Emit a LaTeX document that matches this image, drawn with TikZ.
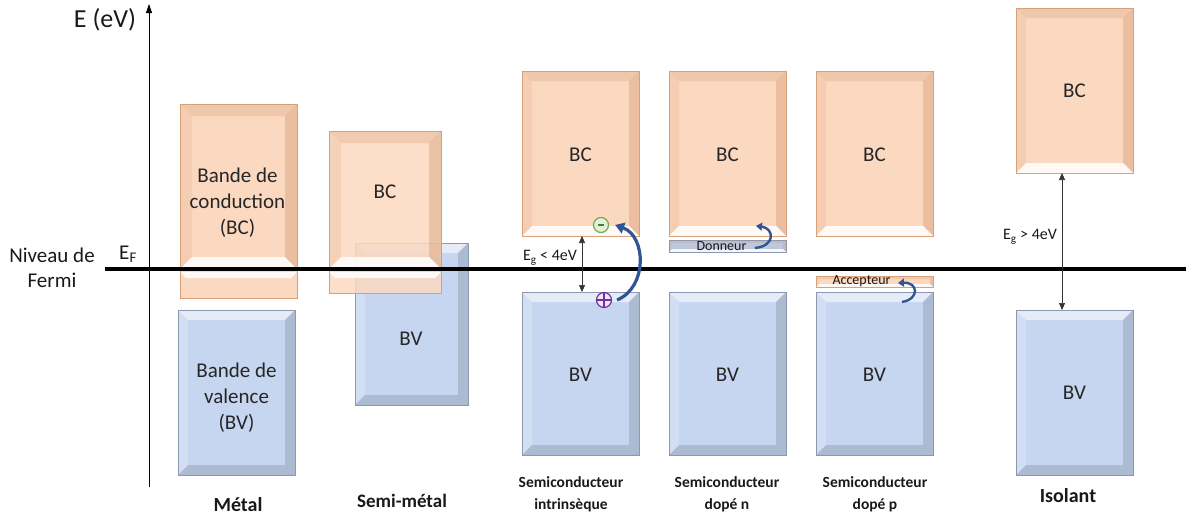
\documentclass[tikz,border=0pt]{standalone}
\usepackage{fontspec}
\setmainfont{Carlito}
\usetikzlibrary{arrows.meta}
\definecolor{bcfill}{RGB}{251,216,192}
\definecolor{bcedge}{RGB}{214,160,120}
\definecolor{bvfill}{RGB}{199,214,240}
\definecolor{bvedge}{RGB}{140,152,175}
\definecolor{dnfill}{RGB}{190,200,220}
\definecolor{arrowblue}{RGB}{47,85,151}
\definecolor{egreen}{RGB}{112,173,71}
\definecolor{hpurple}{RGB}{112,48,160}
\tikzset{
  bevdown/.style={path picture={
    \path (path picture bounding box.south west) coordinate (bsw)
          (path picture bounding box.north east) coordinate (bne)
          (path picture bounding box.south east) coordinate (bse)
          (path picture bounding box.north west) coordinate (bnw);
    \fill[bcedge,opacity=.3] (bnw) -- (bne) -- ([shift={(-#1,-#1)}]bne) -- ([shift={(#1,-#1)}]bnw) -- cycle;
    \fill[bcedge,opacity=.18] (bnw) -- ([shift={(#1,-#1)}]bnw) -- ([shift={(#1,#1)}]bsw) -- (bsw) -- cycle;
    \fill[bcedge,opacity=.45] (bne) -- ([shift={(-#1,-#1)}]bne) -- ([shift={(-#1,#1)}]bse) -- (bse) -- cycle;
    \fill[white,opacity=.85] (bsw) -- (bse) -- ([shift={(-#1,#1)}]bse) -- ([shift={(#1,#1)}]bsw) -- cycle;
  }},
  bevup/.style={path picture={
    \path (path picture bounding box.south west) coordinate (bsw)
          (path picture bounding box.north east) coordinate (bne)
          (path picture bounding box.south east) coordinate (bse)
          (path picture bounding box.north west) coordinate (bnw);
    \fill[white,opacity=.55] (bnw) -- (bne) -- ([shift={(-#1,-#1)}]bne) -- ([shift={(#1,-#1)}]bnw) -- cycle;
    \fill[white,opacity=.2] (bnw) -- ([shift={(#1,-#1)}]bnw) -- ([shift={(#1,#1)}]bsw) -- (bsw) -- cycle;
    \fill[bvedge,opacity=.45] (bne) -- ([shift={(-#1,-#1)}]bne) -- ([shift={(-#1,#1)}]bse) -- (bse) -- cycle;
    \fill[bvedge,opacity=.45] (bsw) -- (bse) -- ([shift={(-#1,#1)}]bse) -- ([shift={(#1,#1)}]bsw) -- cycle;
  }},
  toplight/.style={path picture={
    \path (path picture bounding box.north east) coordinate (bne)
          (path picture bounding box.north west) coordinate (bnw);
    \fill[white,opacity=.85] ([yshift=-3pt]bnw) -- ([yshift=-3pt]bne) -- ([shift={(-#1,-#1-3pt)}]bne) -- ([shift={(#1,-#1-3pt)}]bnw) -- cycle;
  }},
  bandbox/.style={rectangle, inner sep=0pt, outer sep=0pt, line width=1pt},
  bc/.style={bandbox, draw=bcedge, fill=bcfill},
  bv/.style={bandbox, draw=bvedge, fill=bvfill},
  bigbox/.style={minimum width=117pt, minimum height=165pt},
  lbl/.style={font=\fontsize{21}{26}\selectfont, align=center, text=black!85},
  smalllbl/.style={font=\fontsize{16}{18}\selectfont, text=black!90},
  levlbl/.style={font=\fontsize{14}{16}\selectfont, text=black!90},
  captxt/.style={font=\fontsize{15.5}{22}\selectfont\bfseries, align=center, text=black!90},
  capbig/.style={font=\fontsize{20}{24}\selectfont\bfseries, text=black!90},
  gaparrow/.style={{Triangle[length=7pt,width=6pt]}-{Triangle[length=7pt,width=6pt]}, line width=0.6pt, draw=black!80},
  hop/.style={-{Triangle[length=9pt,width=11pt]}, line width=3.2pt, draw=arrowblue},
  hopsmall/.style={-{Triangle[length=6pt,width=8pt]}, line width=2.4pt, draw=arrowblue},
}
\begin{document}
\begin{tikzpicture}[x=1pt,y=-1pt]
\useasboundingbox (0,0) rectangle (1186,517);

% ---- Metal
\node[bc, bevdown=12pt, minimum width=117pt, minimum height=165pt] (mBC) at (238.5,186.5) {};
\node[bc, toplight=6pt, minimum width=117pt, minimum height=29pt] (mBCl) at (238.5,283.5) {};
\node[bv, bevup=10pt, bigbox] (mBV) at (236.5,392.5) {};
\node[lbl] (mBCt) at (237.5,203) {Bande de\\conduction\\(BC)};
\node[lbl] (mBVt) at (236.5,398) {Bande de\\valence\\(BV)};

% ---- Semi-metal
\node[bv, bevup=10pt, minimum width=113pt, minimum height=162pt] (sBV) at (411.5,324) {};
\node[bc, bevdown=12pt, minimum width=112pt, minimum height=138pt, fill opacity=.85] (sBC) at (385,200) {};
\node[bc, toplight=6pt, minimum width=112pt, minimum height=24pt, fill opacity=.85] (sBCl) at (385,281) {};
\node[lbl] (sBCt) at (385,192) {BC};
\node[lbl] (sBVt) at (411,339) {BV};

% ---- Intrinsic
\node[bc, bevdown=10pt, bigbox] (iBC) at (580.5,153.5) {};
\node[bv, bevup=10pt, minimum width=117pt, minimum height=163pt] (iBV) at (580.5,373.5) {};
\node[lbl] (iBCt) at (580.5,155) {BC};
\node[lbl] (iBVt) at (580.5,375) {BV};

% ---- Doped n
\node[bc, bevdown=10pt, bigbox] (nBC) at (727.5,153.5) {};
\node[bandbox, draw=bvedge, fill=dnfill, bevdown=3pt, minimum width=117pt, minimum height=12pt] (nD) at (727.5,246) {};
\node[bv, bevup=10pt, minimum width=117pt, minimum height=163pt] (nBV) at (727.5,373.5) {};
\node[lbl] (nBCt) at (727.5,155) {BC};
\node[lbl] (nBVt) at (727.5,375) {BV};
\node[levlbl] (nDt) at (721.5,246) {Donneur};

% ---- Doped p
\node[bc, bevdown=10pt, bigbox] (pBC) at (874.5,153.5) {};
\node[bc, bevdown=3pt, minimum width=117pt, minimum height=11pt] (pA) at (874.5,281.5) {};
\node[bv, bevup=10pt, minimum width=117pt, minimum height=163pt] (pBV) at (874.5,373.5) {};
\node[lbl] (pBCt) at (874.5,155) {BC};
\node[lbl] (pBVt) at (874.5,375) {BV};
\node[levlbl] (pAt) at (861.5,281) {Accepteur};

% ---- Isolant
\node[bc, bevdown=10pt, bigbox] (IBC) at (1074.5,90.5) {};
\node[bv, bevup=10pt, bigbox] (IBV) at (1074.5,392.5) {};
\node[lbl] (IBCt) at (1074.5,91) {BC};
\node[lbl] (IBVt) at (1074.5,393) {BV};

% ---- Fermi level and axis
\coordinate (F1) at (105,269);
\coordinate (F2) at (1186,269);
\draw[line width=3.8pt] (F1) -- (F2);
\coordinate (A0) at (149,487);
\coordinate (A1) at (149,4);
\draw[line width=0.8pt, -{Triangle[length=9pt,width=6pt]}] (A0) -- (A1);
\node[font=\fontsize{26}{30}\selectfont, text=black!90] (Elab) at (105,20) {E (eV)};
\node[font=\fontsize{21}{24}\selectfont, text=black!90] (EF) at (128,254) {E\textsubscript{F}};
\node[font=\fontsize{21}{25}\selectfont, align=center, text=black!90] (NF) at (52,268) {Niveau de\\Fermi};

% ---- Gaps
\draw[gaparrow] ([xshift=1.5pt]iBC.south) -- ([xshift=1.5pt]iBV.north);
\node[smalllbl] (Eg1) at (550,258) {E\textsubscript{g} < 4eV};
\draw[gaparrow] ([xshift=-12.5pt]IBC.south) -- ([xshift=-12.5pt]IBV.north);
\node[smalllbl] (Eg2) at (1030,237) {E\textsubscript{g} > 4eV};

% ---- Carriers
\node[circle, draw=egreen, fill=white!80!egreen, line width=1.2pt, minimum size=15pt, inner sep=0pt, path picture={\draw[egreen!70!black, line width=1.1pt] ([xshift=-3pt]path picture bounding box.center) -- ([xshift=3pt]path picture bounding box.center);}] (el) at (601,225) {};
\node[circle, draw=hpurple, fill=white!88!hpurple, line width=1.2pt, minimum size=15pt, inner sep=0pt, path picture={\draw[hpurple, line width=1.2pt] (path picture bounding box.north) -- (path picture bounding box.south) (path picture bounding box.west) -- (path picture bounding box.east);}] (hole) at (604,300) {};
\draw[hop] ([xshift=5pt]hole.east) .. controls (648,287) and (646,236) .. ([xshift=6pt]el.east);

\coordinate (d0) at (755,248);
\coordinate (d1) at (756,226);
\draw[hopsmall] (d0) .. controls (776,246) and (774,228) .. (d1);
\coordinate (a0) at (902,302);
\coordinate (a1) at (898,283);
\draw[hopsmall] (a0) .. controls (920,299) and (918,282) .. (a1);

% ---- Captions
\node[capbig] (c1) at (238,505) {Métal};
\node[capbig, font=\fontsize{19}{24}\selectfont\bfseries] (c2) at (402,501) {Semi-métal};
\node[captxt] (c3) at (571,494) {Semiconducteur\\intrinsèque};
\node[captxt] (c4) at (727,494) {Semiconducteur\\dopé n};
\node[captxt] (c5) at (875,494) {Semiconducteur\\dopé p};
\node[capbig] (c6) at (1068,496) {Isolant};
\end{tikzpicture}
\end{document}
